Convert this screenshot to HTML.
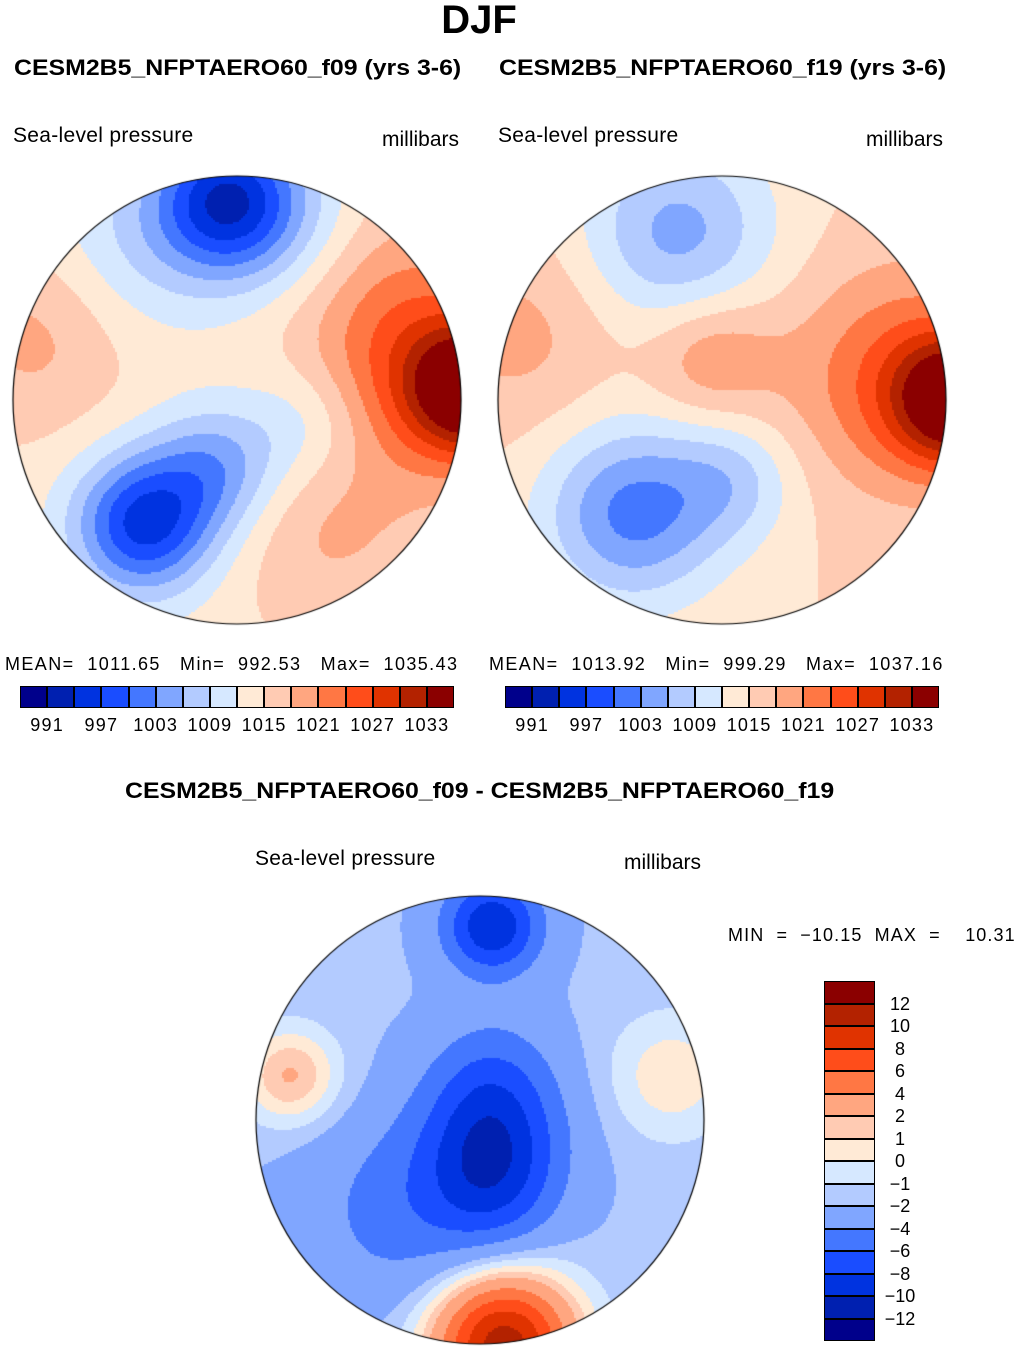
<!DOCTYPE html>
<html><head><meta charset="utf-8">
<style>
body{margin:0;background:#fff;width:1018px;height:1352px;position:relative;overflow:hidden;font-family:"Liberation Sans",sans-serif;}
.t{position:absolute;white-space:nowrap;color:#000}
.b{font-weight:bold}
.sx{transform-origin:0 0;transform:scaleX(1.13)}
canvas{position:absolute}
</style></head><body>
<div class="t b" style="left:0;width:958px;text-align:center;top:-2px;font-size:40px">DJF</div>
<div class="t b sx" style="left:14px;top:55px;font-size:22px">CESM2B5_NFPTAERO60_f09 (yrs 3-6)</div>
<div class="t b sx" style="left:499px;top:55px;font-size:22px">CESM2B5_NFPTAERO60_f19 (yrs 3-6)</div>
<div class="t" style="left:13px;top:124px;font-size:21px;letter-spacing:0.3px">Sea-level pressure</div>
<div class="t" style="left:382px;top:128px;font-size:21px">millibars</div>
<div class="t" style="left:498px;top:124px;font-size:21px;letter-spacing:0.3px">Sea-level pressure</div>
<div class="t" style="left:866px;top:128px;font-size:21px">millibars</div>
<div class="t" style="left:5px;top:654px;font-size:18px;letter-spacing:1.4px">MEAN=&nbsp; 1011.65&nbsp;&nbsp; Min=&nbsp; 992.53&nbsp;&nbsp; Max=&nbsp; 1035.43</div>
<div class="t" style="left:489px;top:654px;font-size:18px;letter-spacing:1.4px">MEAN=&nbsp; 1013.92&nbsp;&nbsp; Min=&nbsp; 999.29&nbsp;&nbsp; Max=&nbsp; 1037.16</div>
<div class="t b sx" style="left:125px;top:778px;font-size:22px">CESM2B5_NFPTAERO60_f09 - CESM2B5_NFPTAERO60_f19</div>
<div class="t" style="left:255px;top:847px;font-size:21px;letter-spacing:0.3px">Sea-level pressure</div>
<div class="t" style="left:624px;top:851px;font-size:21px">millibars</div>
<div class="t" style="left:728px;top:925px;font-size:18px;letter-spacing:1.1px">MIN&nbsp; =&nbsp; −10.15&nbsp; MAX&nbsp; =&nbsp;&nbsp;&nbsp; 10.31</div>
<canvas id="m1" width="452" height="452" style="left:11px;top:174px"></canvas>
<canvas id="m2" width="452" height="452" style="left:496px;top:174px"></canvas>
<canvas id="m3" width="452" height="452" style="left:254px;top:894px"></canvas>
<div id="cb1"></div>
<div id="cb2"></div>
<div id="cb3"></div>
<script>
const colors=["#00008b","#0020b0","#0033e0","#1a4dff","#4477ff","#80a6ff","#b3cbff","#d6e8ff","#ffead6","#ffcbb3","#ffa680","#ff7744","#ff4d1a","#e03300","#b32200","#8b0000"];
const slpLevels=[991,994,997,1000,1003,1006,1009,1012,1015,1018,1021,1024,1027,1030,1033];
const slpTickLabels=["991","997","1003","1009","1015","1021","1027","1033"];
const diffLevels=[-12,-10,-8,-6,-4,-2,-1,0,1,2,4,6,8,10,12];
const diffTickLabels=["−12","−10","−8","−6","−4","−2","−1","0","1","2","4","6","8","10","12"];
// field anomaly blobs: [u, v, amplitude, sigma] in unit-disk coords
const base1=1014;
const blobs1=[[-0.05,-0.9,-17,0.22],[0.25,-0.75,-7,0.3],[-0.45,-0.7,-5,0.3],[-0.42,0.55,-18,0.22],[-0.1,0.3,-9,0.2],[0.3,0.1,-5,0.2],[1.05,-0.05,20,0.2],[0.85,-0.1,9,0.35],[0.55,-0.55,6,0.35],[0.4,0.6,4,0.3],[-0.9,-0.3,5,0.3]];
const base2=1015;
const blobs2=[[-0.2,-0.75,-10,0.3],[-0.4,0.5,-13,0.28],[0.05,0.35,-6,0.2],[-0.05,-0.2,6,0.2],[1.05,0,20,0.2],[0.8,-0.1,9,0.35],[-0.9,-0.3,4,0.3]];
const base3=-1.8;
const blobs3=[[0.05,-0.87,-8,0.15],[0.05,0.1,-6,0.22],[0.05,-0.2,-3,0.2],[0.05,0.35,-3,0.2],[-0.35,0.4,-3,0.3],[0.1,1.0,13,0.22],[-0.85,-0.2,4,0.15],[0.85,-0.2,2.5,0.2]];
function colorIdx(v,lev){let i=0;while(i<lev.length&&v>=lev[i])i++;return i;}
function drawMap(id,base,blobs,lev){
  const c=document.getElementById(id),ctx=c.getContext('2d');const R=224,cx=226,cy=226;
  ctx.save();ctx.beginPath();ctx.arc(cx,cy,R,0,Math.PI*2);ctx.clip();
  for(let y=0;y<452;y+=2)for(let x=0;x<452;x+=2){
    const u=(x-cx)/R,v=(y-cy)/R;let f=base;
    for(const b of blobs){const d=((u-b[0])**2+(v-b[1])**2)/(2*b[3]*b[3]);f+=b[2]*Math.exp(-d);}
    ctx.fillStyle=colors[colorIdx(f,lev)];ctx.fillRect(x,y,2,2);}
  ctx.restore();ctx.beginPath();ctx.arc(cx,cy,R,0,Math.PI*2);ctx.lineWidth=1.2;ctx.strokeStyle='#000';ctx.stroke();
}
drawMap('m1',base1,blobs1,slpLevels);
drawMap('m2',base2,blobs2,slpLevels);
drawMap('m3',base3,blobs3,diffLevels);
function hbar(id,left){
  const el=document.getElementById(id);const w=434/16;
  colors.forEach((col,i)=>{const d=document.createElement('div');
    
    
    d.style.cssText=`position:absolute;left:${left+i*w}px;top:686px;width:${w}px;height:22px;background:${col};box-sizing:border-box;border:1px solid #000;`;el.appendChild(d);});
  slpTickLabels.forEach((t,k)=>{const d=document.createElement('div');
    
    
    d.className='t';d.textContent=t;d.style.cssText+=`left:${left+(1+2*k)*w-30}px;width:60px;text-align:center;top:715px;font-size:18px;letter-spacing:1.2px`;el.appendChild(d);});
}
hbar('cb1',20);hbar('cb2',505);
(function(){const el=document.getElementById('cb3');const h=360/16,top=981;
  colors.slice().reverse().forEach((col,i)=>{const d=document.createElement('div');
    
    
    d.style.cssText=`position:absolute;left:824px;top:${top+i*h}px;width:51px;height:${h}px;background:${col};box-sizing:border-box;border:1px solid #000;`;el.appendChild(d);});
  diffTickLabels.slice().reverse().forEach((t,k)=>{const d=document.createElement('div');
    
    
    d.className='t';d.textContent=t;d.style.cssText+=`left:880px;width:40px;text-align:center;top:${top+(k+1)*h-10}px;font-size:18px`;el.appendChild(d);});
})();
</script>
</body></html>
